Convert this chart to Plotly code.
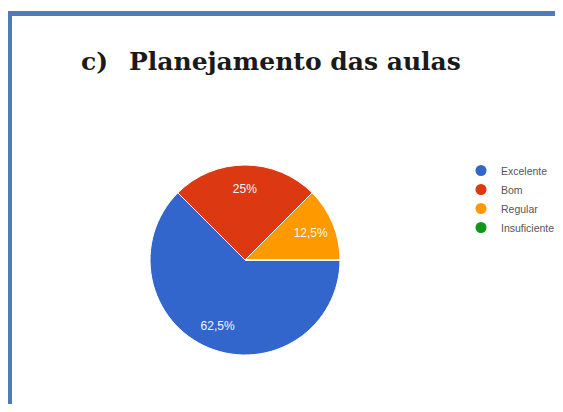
import plotly.graph_objects as go

W, H = 563, 412
OFF = 8  # page body margin of the viewer
FW, FH = W - OFF, H - 2 * OFF

categories = ["Excelente", "Bom", "Regular", "Insuficiente"]
values = [62.5, 25, 12.5, 0]
colors = ["#3366cc", "#dc3912", "#ff9900", "#109618"]
title_prefix = "c)"
title_main = "Planejamento das aulas"

def fmt(v):
    if v == 0:
        return ""
    return ("%g" % v).replace(".", ",") + "%"

def px(x):
    return (x - OFF) / FW

def py(y):
    return 1 - (y - OFF) / FH

dom = dict(x=[px(150), px(340)], y=[py(355), py(165)])

fig = go.Figure()
fig.add_trace(go.Pie(
    labels=categories,
    values=values,
    textinfo="none",
    marker=dict(colors=colors, line=dict(color="white", width=1)),
    sort=False,
    direction="clockwise",
    rotation=90,
    showlegend=False,
    hoverinfo="label+percent",
    domain=dom,
))
# transparent ring carrying the slice labels (places them toward the rim)
fig.add_trace(go.Pie(
    labels=categories,
    values=values,
    text=[fmt(v) for v in values],
    textinfo="text",
    textposition="inside",
    insidetextorientation="horizontal",
    textfont=dict(family="Arial, Liberation Sans, sans-serif", size=12, color="#f4f6fb"),
    marker=dict(colors=["rgba(0,0,0,0)"] * len(values), line=dict(width=0)),
    hole=0.5,
    sort=False,
    direction="clockwise",
    rotation=90,
    showlegend=False,
    hoverinfo="skip",
    domain=dom,
))

for c, col in zip(categories, colors):
    fig.add_trace(go.Scatter(
        x=[None], y=[None], mode="markers", name=c,
        marker=dict(color=col, size=11, symbol="circle"),
        showlegend=True,
    ))

serif = "DejaVu Serif, Liberation Serif, serif"
fig.update_layout(
    width=FW, height=FH,
    margin=dict(l=0, r=0, t=0, b=0, autoexpand=False),
    paper_bgcolor="white",
    plot_bgcolor="rgba(0,0,0,0)",
    xaxis=dict(visible=False),
    yaxis=dict(visible=False),
    showlegend=True,
    legend=dict(
        x=px(461), y=py(156), xanchor="left", yanchor="top",
        font=dict(family="Arial, Liberation Sans, sans-serif", size=10.5, color="#555555"),
        itemwidth=30, tracegroupgap=0, bgcolor="rgba(0,0,0,0)",
        entrywidth=50, entrywidthmode="pixels",
    ),
    shapes=[
        dict(type="rect", xref="paper", yref="paper", x0=px(7), x1=px(12), y0=-0.05, y1=py(11),
             fillcolor="#4a7ebb", line=dict(width=0)),
        dict(type="rect", xref="paper", yref="paper", x0=px(7), x1=1.05, y0=py(16), y1=py(11),
             fillcolor="#4a7ebb", line=dict(width=0)),
    ],
    annotations=[
        dict(text="<b>" + title_prefix + "</b>", x=px(79), y=py(45), xref="paper", yref="paper",
             xanchor="left", yanchor="top", showarrow=False,
             font=dict(family=serif, size=25, color="#1a1a1a")),
        dict(text="<b>" + title_main + "</b>", x=px(127), y=py(45), xref="paper", yref="paper",
             xanchor="left", yanchor="top", showarrow=False,
             font=dict(family=serif, size=25, color="#1a1a1a")),
    ],
)

fig.write_html("out.html")
